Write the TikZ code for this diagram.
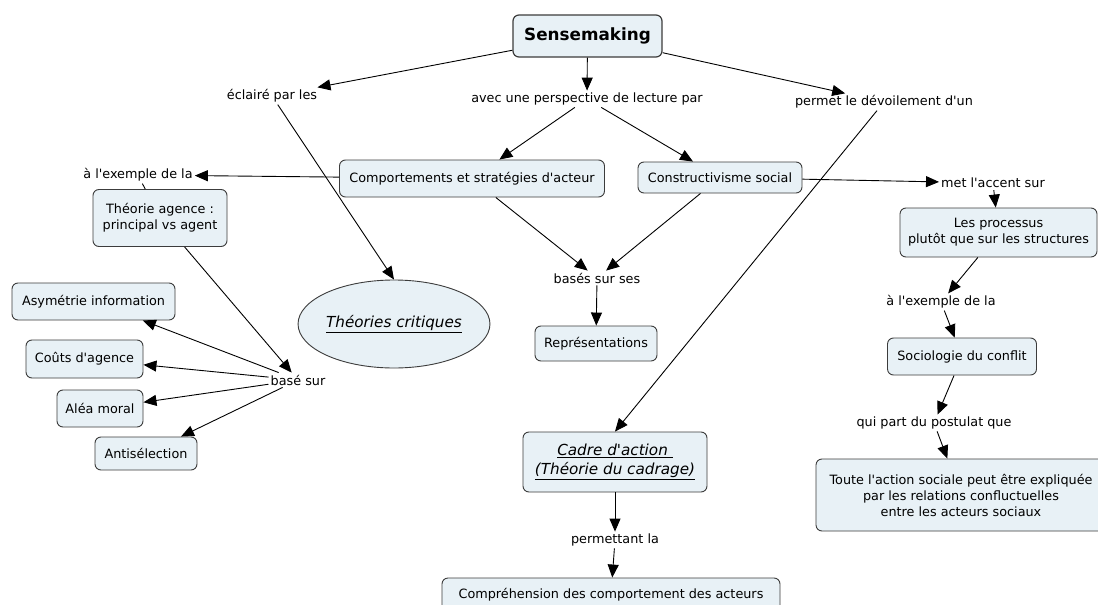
\documentclass[tikz,border=0pt]{standalone}
\usepackage{fontspec}
\setmainfont{DejaVu Sans}
\usetikzlibrary{arrows.meta,shapes.geometric}
\definecolor{conceptfill}{RGB}{232,241,246}
\definecolor{conceptdraw}{RGB}{60,60,60}
% straight apostrophe, as printed in the map
\newcommand{\ap}{\textquotesingle}
\begin{document}
\begin{tikzpicture}[x=1pt,y=-1pt,
  font=\fontsize{12.8}{16}\selectfont,
  concept/.style={draw=conceptdraw, fill=conceptfill, rounded corners=6pt,
    line width=0.9pt, align=center, inner sep=0pt},
  phrase/.style={inner sep=2pt, align=center},
  bigitalic/.style={font=\fontsize{15.2}{19}\selectfont\itshape},
  link/.style={draw=black, line width=0.9pt, -{Triangle[length=13pt,width=11pt]}},
  plainlink/.style={draw=black, line width=0.9pt},
]
\useasboundingbox (0,0) rectangle (1098,605);
\fill[white] (0,0) rectangle (1098,605);

% root concept
\node[concept, minimum width=149pt, minimum height=42pt, line width=1.2pt,
  font=\fontsize{16.8}{20}\selectfont\bfseries] (sense) at (587.5,36) {Sensemaking};

% first-level linking phrases
\node[phrase] (eclaire) at (272,96) {éclairé par les};
\node[phrase] (avec) at (587,99) {avec une perspective de lecture par};
\node[phrase] (permet) at (884,102) {permet le dévoilement d\ap un};

% centre of the map
\node[concept, minimum width=265pt, minimum height=37pt] (comp) at (472,178.5) {Comportements et stratégies d\ap acteur};
\node[concept, minimum width=164pt, minimum height=31pt] (constr) at (720,177.5) {Constructivisme social};
\node[phrase] (bases) at (597,278) {basés sur ses};
\node[concept, minimum width=122pt, minimum height=35pt] (repr) at (596,343.5) {Représentations};
\node[ellipse, draw=conceptdraw, fill=conceptfill, line width=0.9pt,
  minimum width=178pt, minimum height=88pt, inner sep=0pt, bigitalic] (crit) at (394,324) {\underline{Théories critiques}};

% agency theory branch
\node[phrase] (ex1) at (138,175) {à l\ap exemple de la};
\node[concept, minimum width=134pt, minimum height=57pt] (theo) at (160,218) {Théorie agence :\\principal vs agent};
\node[phrase] (base) at (298,380) {basé sur};
\node[concept, minimum width=163pt, minimum height=37pt] (asym) at (93.5,301.5) {Asymétrie information};
\node[concept, minimum width=117pt, minimum height=38pt] (couts) at (84.5,359) {Coûts d\ap agence};
\node[concept, minimum width=86pt, minimum height=37pt] (alea) at (100,408.5) {Aléa moral};
\node[concept, minimum width=102pt, minimum height=33pt] (anti) at (146,453.5) {Antisélection};

% conflict sociology branch
\node[phrase] (met) at (993,183) {met l\ap accent sur};
\node[concept, minimum width=197pt, minimum height=49pt] (proc) at (998.5,232.5) {Les processus\\plutôt que sur les structures};
\node[phrase] (ex2) at (941,302) {à l\ap exemple de la};
\node[concept, minimum width=149pt, minimum height=37pt] (socio) at (962,356.5) {Sociologie du conflit};
\node[phrase] (qui) at (934,423) {qui part du postulat que};
\node[concept, minimum width=290pt, minimum height=72pt] (toute) at (961,495) {Toute l\ap action sociale peut être expliquée\\par les relations confluctuelles\\entre les acteurs sociaux};

% framing branch
\node[concept, minimum width=184pt, minimum height=60pt, bigitalic] (cadre) at (615,462) {\underline{Cadre d\ap action }\\\underline{(Théorie du cadrage)}};
\node[phrase] (perm) at (615,540) {permettant la};
\node[concept, minimum width=338pt, minimum height=34pt] (compr) at (611,595) {Compréhension des comportement des acteurs};

% connectors
\draw[link] (sense) -- (eclaire);
\draw[link] (sense) -- (avec);
\draw[link] (sense) -- (permet);
\draw[link] (avec) -- (comp);
\draw[link] (avec) -- (constr);
\draw[link] (eclaire) -- (crit.north);
\draw[link] (permet) -- (cadre.north);
\draw[link] (comp) -- (ex1);
\draw[plainlink] (ex1) -- (theo);
\draw[link] (comp) -- (bases);
\draw[link] (constr) -- (bases);
\draw[link] (bases) -- (repr);
\draw[link] (theo) -- (base);
\draw[link] (base) -- (asym);
\draw[link] (base) -- (couts);
\draw[link] (base) -- (alea);
\draw[link] (base) -- (anti);
\draw[link] (constr) -- (met);
\draw[link] (met) -- (proc);
\draw[link] (proc) -- (ex2);
\draw[link] (ex2) -- (socio);
\draw[link] (socio) -- (qui);
\draw[link] (qui) -- (toute);
\draw[link] (cadre) -- (perm);
\draw[link] (perm) -- (compr);
\end{tikzpicture}
\end{document}
